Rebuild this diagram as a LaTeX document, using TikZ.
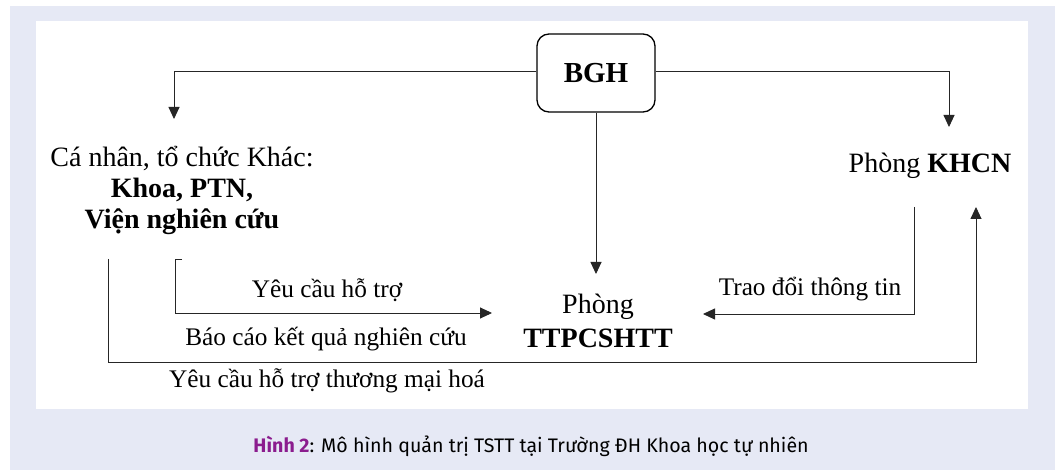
\documentclass[tikz,border=0pt]{standalone}
\usepackage{fontspec}
\setmainfont{Liberation Serif}
\newfontfamily\capfont{Fira Sans}
\usetikzlibrary{arrows.meta}
\definecolor{bgblue}{HTML}{E6E9F5}
\definecolor{hinhpurple}{HTML}{8B1C8E}
\begin{document}
\begin{tikzpicture}[x=1pt,y=-1pt,
  conn/.style={draw=black!85, line width=0.9pt},
  arr/.style={conn, -{Triangle[length=12pt,width=11pt]}},
  txt/.style={inner sep=0pt, font=\fontsize{28}{31}\selectfont},
  lbl/.style={inner sep=0pt, font=\fontsize{25.3}{29}\selectfont}]
\useasboundingbox (0,0) rectangle (1058,470);
\fill[white] (0,0) rectangle (1058,470);
\fill[bgblue] (10,6) rectangle (1055,470);
\fill[white] (36,21) rectangle (1028,409);
% nodes
\node[draw, line width=1.3pt, rounded corners=12pt, minimum width=118pt, minimum height=78pt,
      font=\fontsize{29}{32}\selectfont\bfseries] (bgh) at (596,73) {BGH};
\node[txt, align=center] (canhan) at (182,190) {Cá nhân, tổ chức Khác:\\\textbf{Khoa, PTN,}\\\textbf{Viện nghiên cứu}};
\node[txt] (khcn) at (930,166) {Phòng \textbf{KHCN}};
\node[txt, align=center, font=\fontsize{28}{34}\selectfont] (tt) at (598,321) {Phòng\\\textbf{TTPCSHTT}};
% connector end coordinates
\coordinate (caIn) at (174,119);
\coordinate (khIn) at (949,127);
\coordinate (ttTop) at (596,274);
\coordinate (brTop) at (175,259);
\coordinate (brTick) at (182,259);
\coordinate (brCorner) at (175,313);
\coordinate (ttLeft) at (492,313);
\coordinate (outTop) at (108,259);
\coordinate (outBL) at (108,362);
\coordinate (outBR) at (976,362);
\coordinate (khIn2) at (976,207);
\coordinate (khIn1) at (914,207);
\coordinate (trCorner) at (914,314);
\coordinate (ttRight) at (703,314);
% connectors
\draw[arr] (bgh.west |- 0,71) -| (caIn);
\draw[arr] (bgh.east |- 0,71) -| (khIn);
\draw[arr] (bgh.south -| ttTop) -- (ttTop);
\draw[arr] (brTick) -- (brTop) -- (brCorner) -- (ttLeft);
\draw[arr] (outTop) -- (outBL) -- (outBR) -- (khIn2);
\draw[arr] (khIn1) -- (trCorner) -- (ttRight);
% labels
\node[lbl] (l1) at (327,290) {Yêu cầu hỗ trợ};
\node[lbl] (l2) at (326,339) {Báo cáo kết quả nghiên cứu};
\node[lbl] (l3) at (327,381) {Yêu cầu hỗ trợ thương mại hoá};
\node[lbl] (l4) at (810,289) {Trao đổi thông tin};
% caption
\node[inner sep=0pt, font=\capfont\fontsize{19.6}{22}\selectfont] (cap) at (531,446)
  {\textcolor{hinhpurple}{\textbf{Hình 2}}: Mô hình quản trị TSTT tại Trường ĐH Khoa học tự nhiên};
\end{tikzpicture}
\end{document}
